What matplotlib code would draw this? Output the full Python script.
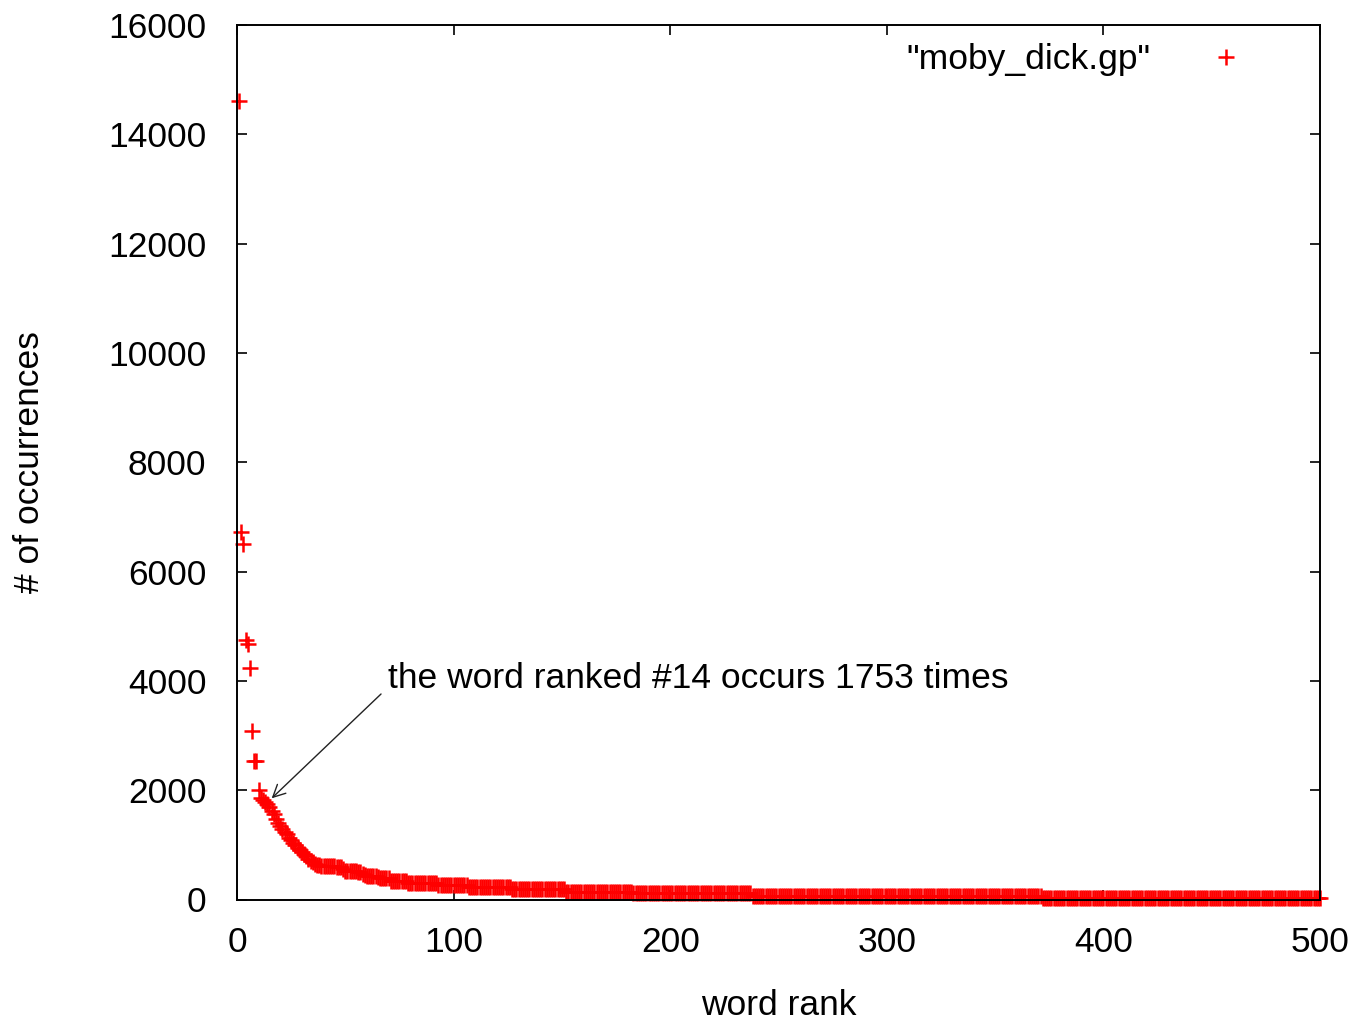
import numpy as np
import matplotlib
matplotlib.use("Agg")
import matplotlib.pyplot as plt

plt.rcParams['font.family'] = ['Liberation Sans', 'DejaVu Sans']

# ---- data ----
# individually readable counts for ranks 1..70
head_counts = [14614, 6729, 6498, 4747, 4674, 4230, 3088, 2540, 2528, 2003,
               1850, 1820, 1790, 1753, 1700, 1620, 1560, 1480, 1400, 1350,
               1290, 1240, 1190, 1130, 1080, 1040, 1000, 950, 910, 870,
               830, 790, 750, 710, 680, 650, 630, 625, 620, 618,
               615, 612, 610, 608, 605, 602, 600, 598, 560, 530,
               525, 522, 520, 518, 515, 512, 510, 470, 440, 436,
               434, 434, 434, 434, 420, 402, 402, 400, 400, 398]
# plateaus of the tail (ranks 71..500): value and number of ranks at that value
tail_values = [342, 298, 262, 232, 188, 146, 115, 68, 24]
tail_lengths = [8, 14, 14, 20, 25, 31, 55, 134, 129]

counts = np.concatenate([head_counts, np.repeat(tail_values, tail_lengths)])
ranks = np.arange(1, len(counts) + 1)

legend_label = '"moby_dick.gp"'
annot_text = "the word ranked #14 occurs 1753 times"
annot_tip = (16, 1851)
annot_tail = (66.5, 3760)
annot_text_pos = (69.7, 4052)

x_ticks = [0, 100, 200, 300, 400, 500]
y_ticks = [0, 2000, 4000, 6000, 8000, 10000, 12000, 14000, 16000]

FS = 25.5

# ---- figure ----
fig = plt.figure(figsize=(13.56, 10.23), dpi=100)
ax = fig.add_axes([237/1356, 123.5/1023, (1320-237)/1356, (899.5-25)/1023])

ax.plot(ranks, counts, linestyle='none', marker='+', markersize=11.5,
        markeredgewidth=1.8, color='#ff0000', clip_on=False, label=legend_label)

ax.set_xlim(0, 500)
ax.set_ylim(0, 16000)
ax.set_xticks(x_ticks)
ax.set_yticks(y_ticks)
ax.tick_params(direction='in', length=7, width=1.2, top=True, right=True,
               labelsize=FS, colors='black')
ax.tick_params(axis='y', pad=22)
ax.tick_params(axis='x', pad=19)
for s in ax.spines.values():
    s.set_linewidth(1.4)
    s.set_zorder(5)

ax.set_xlabel("word rank", fontsize=FS, labelpad=22)
ax.set_ylabel("# of occurrences", fontsize=FS, labelpad=45)

ax.annotate("", xy=annot_tip, xytext=annot_tail,
            arrowprops=dict(arrowstyle='->', lw=1.0, color='#222222',
                            mutation_scale=22, shrinkA=0, shrinkB=0))
ax.text(annot_text_pos[0], annot_text_pos[1], annot_text, fontsize=FS,
        ha='left', va='center')

leg = ax.legend(loc='upper right', bbox_to_anchor=(0.9428, 0.9955),
                frameon=False, markerfirst=False, fontsize=FS,
                handlelength=1.0, handletextpad=1.65, borderaxespad=0.0,
                numpoints=1)

fig.savefig("out.png", dpi=100)
